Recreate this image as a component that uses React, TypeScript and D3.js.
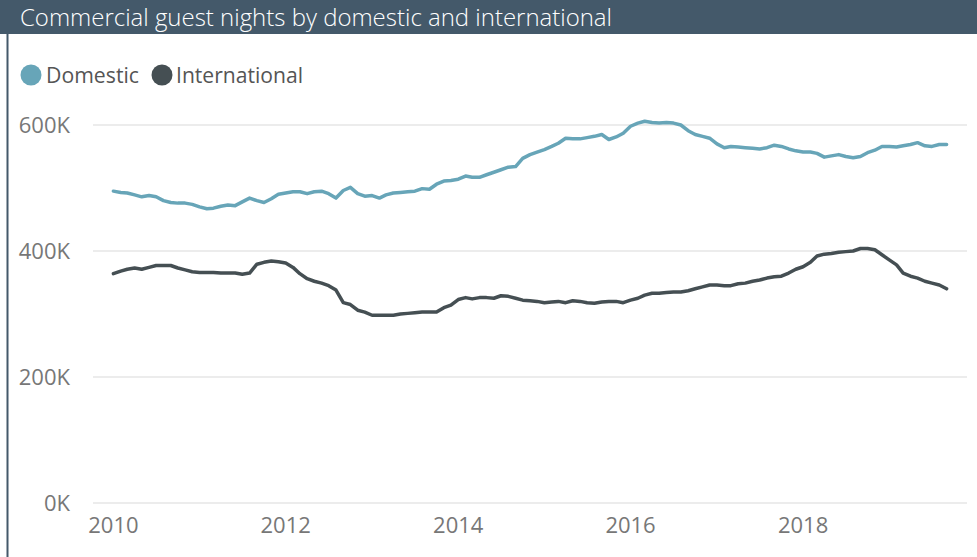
import * as d3 from "d3";

const START_YEAR = 2010;
const YEAR_TICKS = [2010, 2012, 2014, 2016, 2018];
const Y_TICKS = [0, 200000, 400000, 600000];

// monthly values from Jan 2010, in thousands
const DOMESTIC = [
  495, 493, 492, 489, 486, 488, 486, 480, 477, 476,
  476, 474, 470, 467, 468, 471, 473, 472, 478, 484,
  480, 477, 483, 490, 492, 494, 494, 491, 494, 495,
  491, 484, 496, 501, 491, 487, 488, 484, 489, 492,
  493, 494, 495, 499, 498, 506, 511, 512, 514, 519,
  517, 517, 521, 525, 529, 533, 534, 547, 553, 557,
  561, 566, 571, 579, 578, 578, 580, 582, 585, 577,
  581, 587, 598, 603, 606, 604, 603, 604, 603, 600,
  591, 585, 582, 579, 570, 564, 566, 565, 564, 563,
  562, 564, 568, 566, 562, 559, 557, 557, 555, 549,
  551, 553, 550, 548, 550, 556, 560, 566, 566, 565,
  567, 569, 572, 567, 566, 569, 569,
];

const INTERNATIONAL = [
  364, 368, 371, 373, 371, 374, 377, 377, 377, 373,
  370, 367, 366, 366, 366, 365, 365, 365, 363, 365,
  379, 382, 384, 383, 381, 374, 364, 356, 352, 349,
  345, 338, 318, 315, 306, 303, 298, 298, 298, 298,
  300, 301, 302, 303, 303, 303, 310, 314, 323, 326,
  324, 326, 326, 325, 329, 328, 325, 322, 321, 320,
  318, 319, 320, 318, 321, 320, 318, 317, 319, 320,
  320, 318, 322, 325, 330, 333, 333, 334, 335, 335,
  337, 340, 343, 346, 346, 345, 345, 348, 349, 352,
  354, 357, 359, 360, 365, 371, 375, 382, 392, 395,
  396, 398, 399, 400, 404, 404, 402, 394, 386, 378,
  365, 360, 357, 352, 349, 346, 340,
];

const SERIES = [
  { name: "Domestic", values: DOMESTIC, color: "#67A5B8" },
  { name: "International", values: INTERNATIONAL, color: "#454F53" },
];

const W = 977;
const H = 557;
const FONT = "'Open Sans', 'Noto Sans', sans-serif";

export default function App() {
  const x = d3.scaleTime()
    .domain([new Date(2010, 0, 1), new Date(2020, 0, 1)])
    .range([113.4, 975.4]);
  const y = d3.scaleLinear().domain([0, 600000]).range([503, 125]);

  const line = d3.line<number>()
    .x((_, i) => x(new Date(START_YEAR, i, 1)))
    .y(v => y(v * 1000))
    .curve(d3.curveLinear);

  return (
    <div style={{ position: "absolute", left: 0, top: 0 }}>
      <svg width={W} height={H} style={{ display: "block", background: "#fff" }}>
        <rect x={0} y={0} width={W} height={34} fill="#44596A" />
        <line x1={7.5} x2={7.5} y1={34} y2={H} stroke="#44596A" strokeWidth={2} />
        <text x={20} y={26} fill="#fff" fontFamily={FONT} fontWeight={300} fontSize={24.5}
          textLength={592} lengthAdjust="spacingAndGlyphs">
          Commercial guest nights by domestic and international
        </text>

        {/* legend */}
        <circle cx={31} cy={75} r={10.5} fill={SERIES[0].color} />
        <text x={46} y={82.5} fill="#555" fontFamily={FONT} fontSize={22}
          textLength={93} lengthAdjust="spacingAndGlyphs">Domestic</text>
        <circle cx={162} cy={75} r={10.5} fill={SERIES[1].color} />
        <text x={176} y={82.5} fill="#555" fontFamily={FONT} fontSize={22}
          textLength={127} lengthAdjust="spacingAndGlyphs">International</text>

        {/* y grid + labels */}
        {Y_TICKS.map(t => (
          <g key={t}>
            <line x1={93} x2={967} y1={y(t)} y2={y(t)} stroke="#E6E6E6" strokeWidth={1.5} />
            <text x={70} y={y(t) + 8} textAnchor="end" fill="#777" fontFamily={FONT} fontSize={22}>
              {`${t / 1000}K`}
            </text>
          </g>
        ))}

        {/* x labels */}
        {YEAR_TICKS.map(yr => (
          <text key={yr} x={x(new Date(yr, 0, 1))} y={533} textAnchor="middle" fill="#777"
            fontFamily={FONT} fontSize={22}>{yr}</text>
        ))}

        {SERIES.map(s => (
          <path key={s.name} d={line(s.values) ?? ""} fill="none" stroke={s.color}
            strokeWidth={3.5} strokeLinejoin="round" strokeLinecap="round" />
        ))}
      </svg>
    </div>
  );
}
